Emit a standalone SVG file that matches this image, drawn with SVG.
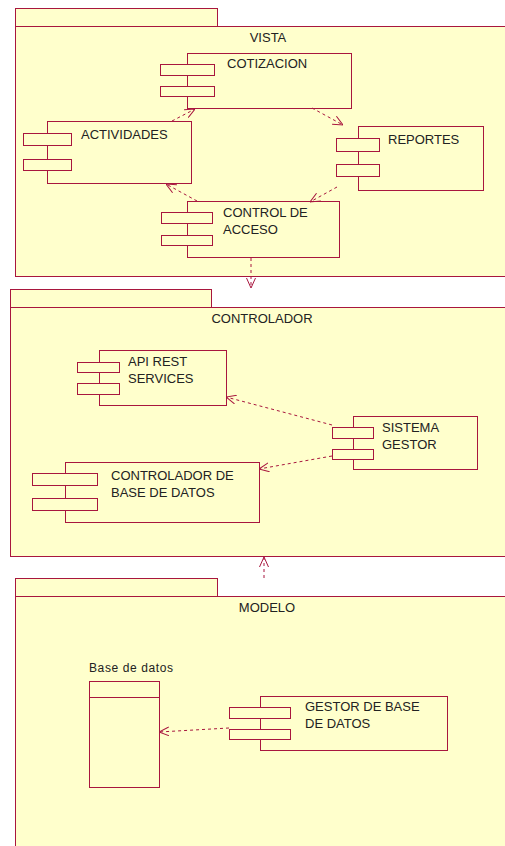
<svg xmlns="http://www.w3.org/2000/svg" width="505" height="846" viewBox="0 0 505 846">
<defs>
<style>
.pk{fill:#ffffcc;stroke:#a8163e;stroke-width:1}
.box{fill:#ffffcc;stroke:#a8163e;stroke-width:1}
.t{font-family:"Liberation Sans",Arial,sans-serif;font-size:13px;fill:#222222}
.tc{font-family:"Liberation Sans",Arial,sans-serif;font-size:13px;fill:#222222;text-anchor:middle}
.dep{fill:none;stroke:#a8163e;stroke-width:1;stroke-dasharray:3,3;marker-end:url(#arr)}
</style>
<marker id="arr" viewBox="0 0 10 10" refX="10" refY="5" markerWidth="10" markerHeight="10" markerUnits="userSpaceOnUse" orient="auto">
<path d="M0,0.5 L10,5 L0,9.5" fill="none" stroke="#a8163e" stroke-width="1"/>
</marker>
</defs>
<rect width="505" height="846" fill="#ffffff"/>

<g id="pkg-vista">
<rect class="pk" x="15.5" y="8.5" width="202" height="18"/>
<rect class="pk" x="15.5" y="26.5" width="500" height="250"/>
<text class="tc" x="268" y="42">VISTA</text>
</g>

<g id="pkg-controlador">
<rect class="pk" x="10.5" y="289.5" width="201" height="18"/>
<rect class="pk" x="10.5" y="307.5" width="505" height="249"/>
<text class="tc" x="262" y="323">CONTROLADOR</text>
</g>

<g id="pkg-modelo">
<rect class="pk" x="15.5" y="578.5" width="202" height="18"/>
<rect class="pk" x="15.5" y="596.5" width="500" height="260"/>
<text class="tc" x="267" y="612">MODELO</text>
</g>

<g id="cotizacion">
<rect class="box" x="187.5" y="53.5" width="164" height="55"/>
<rect class="box" x="160.5" y="64.5" width="54" height="11"/>
<rect class="box" x="160.5" y="86.5" width="54" height="10"/>
<text class="t" x="227" y="68">COTIZACION</text>
</g>

<g id="actividades">
<rect class="box" x="47.5" y="121.5" width="144" height="62"/>
<rect class="box" x="23.5" y="133.5" width="48" height="12"/>
<rect class="box" x="23.5" y="159.5" width="48" height="11"/>
<text class="t" x="81" y="139">ACTIVIDADES</text>
</g>

<g id="reportes">
<rect class="box" x="358.5" y="126.5" width="125" height="64"/>
<rect class="box" x="336.5" y="138.5" width="43" height="13"/>
<rect class="box" x="336.5" y="164.5" width="43" height="12"/>
<text class="t" x="388" y="144">REPORTES</text>
</g>

<g id="control-acceso">
<rect class="box" x="187.5" y="201.5" width="152" height="56"/>
<rect class="box" x="161.5" y="212.5" width="51" height="11"/>
<rect class="box" x="161.5" y="235.5" width="51" height="10"/>
<text class="t" x="223" y="217">CONTROL DE</text>
<text class="t" x="223" y="234">ACCESO</text>
</g>

<g id="api-rest">
<rect class="box" x="99.5" y="350.5" width="127" height="55"/>
<rect class="box" x="77.5" y="362.5" width="42" height="10"/>
<rect class="box" x="77.5" y="383.5" width="42" height="11"/>
<text class="t" x="128" y="366">API REST</text>
<text class="t" x="128" y="383">SERVICES</text>
</g>

<g id="sistema-gestor">
<rect class="box" x="353.5" y="416.5" width="124" height="53"/>
<rect class="box" x="332.5" y="427.5" width="41" height="11"/>
<rect class="box" x="332.5" y="449.5" width="41" height="10"/>
<text class="t" x="382" y="432">SISTEMA</text>
<text class="t" x="382" y="449">GESTOR</text>
</g>

<g id="controlador-bd">
<rect class="box" x="65.5" y="462.5" width="194" height="60"/>
<rect class="box" x="32.5" y="473.5" width="65" height="12"/>
<rect class="box" x="32.5" y="498.5" width="65" height="12"/>
<text class="t" x="111" y="480">CONTROLADOR DE</text>
<text class="t" x="111" y="497">BASE DE DATOS</text>
</g>

<g id="base-datos">
<text class="t" x="89" y="672" style="font-size:12px;letter-spacing:0.6px">Base de datos</text>
<rect class="box" x="89.5" y="681.5" width="70" height="106"/>
<line x1="89.5" y1="697.5" x2="159.5" y2="697.5" stroke="#a8163e" stroke-width="1"/>
</g>

<g id="gestor-bd">
<rect class="box" x="260.5" y="696.5" width="187" height="54"/>
<rect class="box" x="229.5" y="707.5" width="61" height="11"/>
<rect class="box" x="229.5" y="729.5" width="61" height="10"/>
<text class="t" x="305" y="711">GESTOR DE BASE</text>
<text class="t" x="305" y="728">DE DATOS</text>
</g>

<g id="connectors">
<path class="dep" d="M172,121 L195,109"/>
<path class="dep" d="M312,108 L343,125"/>
<path class="dep" d="M197,201 L166,184"/>
<path class="dep" d="M337,187 L310,202"/>
<path class="dep" d="M251,258 L251,288"/>
<path class="dep" d="M332,425 L226,397"/>
<path class="dep" d="M332,456 L259,469"/>
<path class="dep" d="M264,578 L264,557"/>
<path class="dep" d="M229,728 L159,732"/>
</g>
</svg>
